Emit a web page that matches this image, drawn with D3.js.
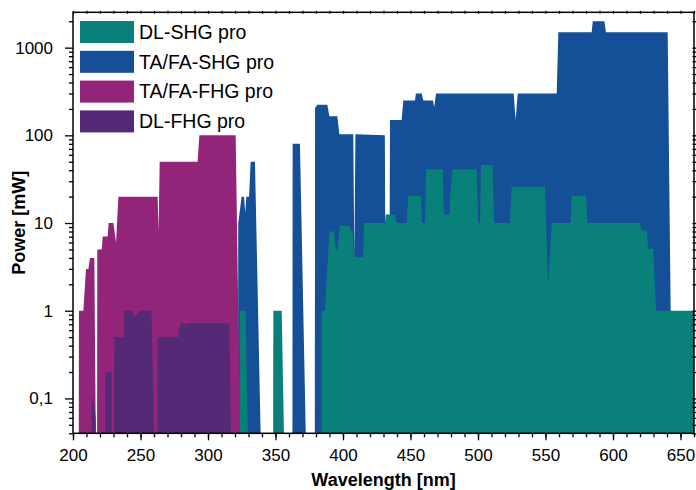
<!DOCTYPE html>
<html>
<head>
<meta charset="utf-8">
<script src="https://cdn.jsdelivr.net/npm/d3@7"></script>
<style>
  body { margin: 0; background: #fff; }
  svg text { font-family: "Liberation Sans", Arial, sans-serif; fill: #000; }
</style>
</head>
<body>
<svg id="chart" width="696" height="490"></svg>
<script>
// series: wavelength [nm] and power [mW]; 0.01 = nothing (below axis)
var dlShgNm = [323.4, 323.6, 327.9, 330.2, 348.2, 348.4, 354.6, 357,
  384.0, 384.2, 386.7, 389.9, 393.3, 394.8, 395.8, 397.8, 405.2, 405.8, 407.2, 408.1, 415, 415.6,
  431.1, 431.6, 438.5, 439.8, 447.1, 448.4, 457.8, 458.4, 460.8, 461.5, 473.8, 474.8, 478.8, 479.8,
  481.2, 499, 500.2, 501.5, 502.2, 510.8, 511.9, 523.7, 525, 549.6, 552, 554.6, 568.6, 569.4, 580,
  581, 620, 621.2, 624.9, 626.1, 629.8, 631.9, 670];
var dlShgMw = [0.01, 1, 1, 0.01, 0.01, 1, 1, 0.01,
  0.01, 1, 1, 8, 8, 5, 5, 9.3, 9.3, 8, 8, 4.1, 4.1, 10,
  10, 12.5, 12.5, 10, 10, 20.5, 20.5, 10, 10, 41, 41, 12.5, 12.5, 25,
  41, 41, 10, 10, 46, 46, 10, 10, 26, 26, 2.1, 10, 10, 20.5, 20.5,
  10, 10, 8.2, 8.2, 5.1, 5.1, 1, 1];

var taShgNm = [322.2, 322.4, 324.9, 326.7, 327.6, 328.4, 330.4, 331.6, 334.8, 339.8,
  362.5, 362.7, 368.1, 373.2,
  379.1, 379.3, 381, 388.4, 389.9, 395.8, 397.3, 407.6, 408.4, 409.2, 431, 431.3, 434.5, 434.8,
  443.4, 444.7, 453.3, 454, 458.3, 459.5, 466.6, 467.6, 468.9, 526.4, 527.9, 529.4, 558.3, 559.5,
  584.2, 585, 593.6, 594.8, 640.5, 644.1];
var taShgMw = [0.01, 10, 20, 20, 13, 20, 20, 50, 50, 0.01,
  0.01, 80, 80, 0.01,
  0.01, 205, 224, 224, 165, 165, 103, 103, 4, 103, 100, 5, 5, 150,
  150, 250, 250, 300, 300, 250, 250, 210, 300, 300, 150, 300, 300, 1500,
  1500, 2000, 2000, 1500, 1500, 0.01];

var taFhgNm = [204.2, 204.4, 207.7, 209.6, 211.4, 212.6, 215.8, 217.2, 217.8, 218, 221.3, 222,
  225.7, 226.4, 229.9, 231.9, 233.6, 262.7, 263.4, 264.2, 292.3, 293.6, 320.5, 324.3];
var taFhgMw = [0.01, 1, 1, 3, 3, 4, 4, 0.01, 0.01, 5, 5, 7,
  7, 10, 10, 6, 20, 20, 8, 50, 50, 100, 100, 0.01];

var dlFhgNm = [213.6, 213.8, 215, 216.8, 217.6, 223.8, 224, 228.6, 228.8,
  230.4, 230.6, 237.6, 238, 243.5, 245.6, 249.6, 258.2, 261,
  262.5, 262.7, 278, 279.3, 283, 283.6, 284.2, 315.8, 317.5];
var dlFhgMw = [0.01, 0.1, 0.1, 0.06, 0.01, 0.01, 0.2, 0.2, 0.01,
  0.01, 0.5, 0.5, 1, 1, 0.84, 1, 1, 0.01,
  0.01, 0.5, 0.5, 0.72, 0.72, 0.6, 0.72, 0.72, 0.01];

var seriesNames = ["DL-SHG pro", "TA/FA-SHG pro", "TA/FA-FHG pro", "DL-FHG pro"];
var seriesColors = ["#0a807a", "#154f97", "#92257a", "#542a77"];
var xMajor = [200, 250, 300, 350, 400, 450, 500, 550, 600, 650];
var yMajor = [0.1, 1, 10, 100, 1000];
var yLabels = ["0,1", "1", "10", "100", "1000"];

var svg = d3.select("#chart");
var pLeft = 73, pRight = 694, pTop = 12.3, pBottom = 433.3;

var x = d3.scaleLinear().domain([200, 660]).range([pLeft, pRight]);
var y = d3.scaleLog().domain([0.04, 2530]).range([pBottom, pTop]);

svg.append("clipPath").attr("id", "plot")
  .append("rect").attr("x", pLeft).attr("y", pTop)
  .attr("width", pRight - pLeft).attr("height", pBottom - pTop);

function pts(nm, mw) {
  return nm.map(function(d, i) { return [d, mw[i]]; });
}

var area = d3.area()
  .x(function(d) { return x(d[0]); })
  .y0(pBottom + 60)
  .y1(function(d) { return y(d[1]); });

// drawing order: blue behind teal, magenta behind purple
var layers = [
  { data: pts(taShgNm, taShgMw), color: seriesColors[1] },
  { data: pts(dlShgNm, dlShgMw), color: seriesColors[0] },
  { data: pts(taFhgNm, taFhgMw), color: seriesColors[2] },
  { data: pts(dlFhgNm, dlFhgMw), color: seriesColors[3] }
];

svg.append("g").attr("clip-path", "url(#plot)")
  .selectAll("path").data(layers).enter().append("path")
  .attr("d", function(d) { return area(d.data); })
  .attr("fill", function(d) { return d.color; });

// minor tick values
var xMinor = d3.range(200, 661, 10);
var yMinor = [];
[-2, -1, 0, 1, 2, 3].forEach(function(e) {
  for (var k = 2; k <= 9; k++) {
    var v = k * Math.pow(10, e);
    if (v >= 0.04 && v <= 2530) yMinor.push(v);
  }
});

function styleAxis(g) {
  g.select(".domain").remove();
  g.selectAll("line").attr("stroke", "#000").attr("stroke-width", 1.3);
  g.selectAll("text").style("font-size", "17px");
}

svg.append("g").attr("transform", "translate(0," + pBottom + ")")
  .call(d3.axisBottom(x).tickValues(xMinor).tickSize(4).tickFormat(""))
  .call(styleAxis);
svg.append("g").attr("transform", "translate(0," + pBottom + ")")
  .call(d3.axisBottom(x).tickValues(xMajor).tickSize(7).tickPadding(9).tickFormat(d3.format("d")))
  .call(styleAxis);
svg.append("g").attr("transform", "translate(0," + (pTop + 1.5) + ")")
  .call(d3.axisTop(x).tickValues(xMinor).tickSize(3).tickFormat(""))
  .call(styleAxis);

svg.append("g").attr("transform", "translate(" + pLeft + ",0)")
  .call(d3.axisLeft(y).tickValues(yMinor).tickSize(4).tickFormat(""))
  .call(styleAxis);
svg.append("g").attr("transform", "translate(" + pLeft + ",0)")
  .call(d3.axisLeft(y).tickValues(yMajor).tickSize(8).tickPadding(12)
    .tickFormat(function(d, i) { return yLabels[i]; }))
  .call(styleAxis);
svg.append("g").attr("transform", "translate(" + (pRight - 1.5) + ",0)")
  .call(d3.axisRight(y).tickValues(yMinor).tickSize(4).tickFormat(""))
  .call(styleAxis);
svg.append("g").attr("transform", "translate(" + (pRight - 1.5) + ",0)")
  .call(d3.axisRight(y).tickValues(yMajor).tickSize(5).tickFormat(""))
  .call(styleAxis);

svg.append("rect")
  .attr("x", pLeft).attr("y", pTop)
  .attr("width", pRight - pLeft).attr("height", pBottom - pTop)
  .attr("fill", "none").attr("stroke", "#000").attr("stroke-width", 1.5);

svg.append("text")
  .attr("x", (pLeft + pRight) / 2).attr("y", 486)
  .attr("text-anchor", "middle")
  .style("font-size", "18px").style("font-weight", "bold")
  .text("Wavelength [nm]");

svg.append("text")
  .attr("transform", "translate(25," + (pTop + pBottom) / 2 + ") rotate(-90)")
  .attr("text-anchor", "middle")
  .style("font-size", "18px").style("font-weight", "bold")
  .text("Power [mW]");

// legend
var legend = svg.append("g").selectAll("g")
  .data(seriesNames).enter().append("g")
  .attr("transform", function(d, i) { return "translate(80," + (21 + i * 29.8) + ")"; });
legend.append("rect")
  .attr("width", 54).attr("height", 22)
  .attr("fill", function(d, i) { return seriesColors[i]; });
legend.append("text")
  .attr("x", 59).attr("y", 11).attr("dy", "0.35em")
  .style("font-size", "19.5px")
  .text(function(d) { return d; });
</script>
</body>
</html>
